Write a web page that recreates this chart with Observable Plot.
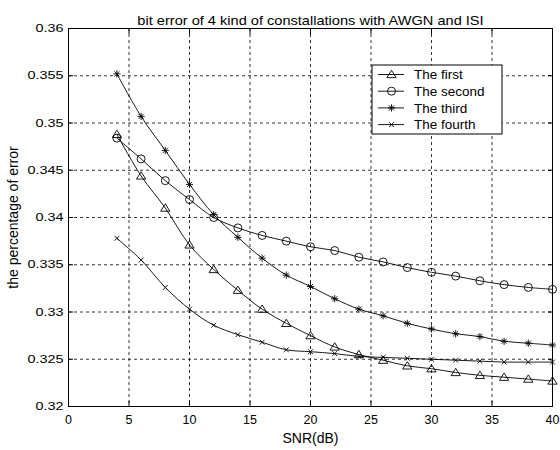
<!DOCTYPE html>
<html><head><meta charset="utf-8">
<script src="https://cdn.jsdelivr.net/npm/d3@7"></script>
<script src="https://cdn.jsdelivr.net/npm/@observablehq/plot@0.6"></script>
<style>body{margin:0;background:#fff;}</style>
</head><body><div id="chart"></div>
<script>
const titleText = "bit error of 4 kind of constallations with AWGN and ISI";
const xLabel = "SNR(dB)";
const yLabel = "the percentage of error";
const snr = [4,6,8,10,12,14,16,18,20,22,24,26,28,30,32,34,36,38,40];
const first  = [0.3488,0.3444,0.3410,0.3371,0.3345,0.3323,0.3303,0.3288,0.3275,0.3263,0.3255,0.3249,0.3243,0.3240,0.3236,0.3233,0.3231,0.3229,0.3227];
const second = [0.3484,0.3462,0.3439,0.3419,0.3400,0.3389,0.3381,0.3375,0.3369,0.3365,0.3358,0.3353,0.3347,0.3342,0.3338,0.3333,0.3329,0.3326,0.3324];
const third  = [0.3552,0.3507,0.3471,0.3435,0.3403,0.3379,0.3357,0.3339,0.3327,0.3314,0.3303,0.3296,0.3288,0.3282,0.3277,0.3274,0.3269,0.3267,0.3265];
const fourth = [0.3378,0.3355,0.3326,0.3303,0.3286,0.3276,0.3268,0.3260,0.3258,0.3256,0.3253,0.3252,0.3251,0.3250,0.3249,0.3248,0.3247,0.3247,0.3247];
const seriesNames = ["The first","The second","The third","The fourth"];
const xTicks = [0,5,10,15,20,25,30,35,40];
const yTicks = [0.32,0.325,0.33,0.335,0.34,0.345,0.35,0.355,0.36];
const yTickLabels = ["0.32","0.325","0.33","0.335","0.34","0.345","0.35","0.355","0.36"];

const values = [first, second, third, fourth];
const rows = seriesNames.flatMap((name, i) => snr.map((x, j) => ({series: name, snr: x, value: values[i][j]})));

// MATLAB-like marker shapes
const matlabStar = {draw(ctx, size) {
  const r = Math.sqrt(size / Math.PI), d = r * 0.7071;
  ctx.moveTo(-r, 0); ctx.lineTo(r, 0); ctx.moveTo(0, -r); ctx.lineTo(0, r);
  ctx.moveTo(-d, -d); ctx.lineTo(d, d); ctx.moveTo(-d, d); ctx.lineTo(d, -d);
}};
const matlabX = {draw(ctx, size) {
  const d = Math.sqrt(size / Math.PI) * 0.7071;
  ctx.moveTo(-d, -d); ctx.lineTo(d, d); ctx.moveTo(-d, d); ctx.lineTo(d, -d);
}};
const matlabTriangle = {draw(ctx, size) {
  const r = Math.sqrt(size / Math.PI);
  ctx.moveTo(0, -r); ctx.lineTo(r * 1.1, r * 0.75); ctx.lineTo(-r * 1.1, r * 0.75); ctx.closePath();
}};
const seriesSymbols = [matlabTriangle, d3.symbolCircle, matlabStar, matlabX];
const symR = [4.2, 4, 3.6, 3.4];

const font = "'Liberation Sans', Arial, Helvetica, sans-serif";
const chart = Plot.plot({
  width: 560, height: 450,
  marginLeft: 68, marginRight: 8, marginTop: 28, marginBottom: 44,
  style: {fontFamily: font, fontSize: "12px", background: "white", color: "black"},
  x: {domain: [0, 40]},
  y: {domain: [0.32, 0.36]},
  marks: [
    Plot.gridX(xTicks, {stroke: "black", strokeOpacity: 1, strokeWidth: 0.8, strokeDasharray: "3,3"}),
    Plot.gridY(yTicks, {stroke: "black", strokeOpacity: 1, strokeWidth: 0.8, strokeDasharray: "3,3"}),
    Plot.axisX(xTicks, {anchor: "bottom", tickSize: -5, tickFormat: () => "", label: null}),
    Plot.axisX(xTicks, {anchor: "top", tickSize: -5, tickFormat: () => "", label: null}),
    Plot.axisY(yTicks, {anchor: "left", tickSize: -5, tickFormat: () => "", label: null}),
    Plot.axisY(yTicks, {anchor: "right", tickSize: -5, tickFormat: () => "", label: null}),
    Plot.frame({stroke: "black", strokeWidth: 1}),
    Plot.axisX(xTicks, {tickSize: 0, tickPadding: 9, fontSize: 12.5, label: xLabel, labelAnchor: "center", labelOffset: 36, labelArrow: false}),
    Plot.axisY(yTicks, {tickSize: 0, tickPadding: 5, fontSize: 11.5, tickFormat: (d, i) => yTickLabels[i], label: yLabel, labelAnchor: "center", labelOffset: 60, labelArrow: false}),
    Plot.line(rows, {x: "snr", y: "value", z: "series", stroke: "black", strokeWidth: 0.9, curve: "catmull-rom"}),
    ...seriesNames.map((name, i) =>
      Plot.dot(rows.filter(d => d.series === name), {x: "snr", y: "value", symbol: seriesSymbols[i], stroke: "black", fill: "none", strokeWidth: 0.9, r: symR[i]})),
    Plot.text([titleText], {frameAnchor: "top", dy: -13, fontSize: 13.5, fill: "black"})
  ]
});
document.getElementById("chart").appendChild(chart);

const svg = d3.select(chart);
const allText = svg.selectAll("text");
allText.filter(function() { return this.textContent === xLabel || this.textContent === yLabel; }).attr("font-size", 14);
// horizontally stretched text, as in the reference raster
function stretch(sel, factor) {
  sel.each(function() {
    const L = this.getComputedTextLength();
    if (L > 0) {
      this.setAttribute("textLength", (L * factor).toFixed(1));
      this.setAttribute("lengthAdjust", "spacingAndGlyphs");
    }
  });
}
stretch(allText.filter(function() { return yTickLabels.includes(this.textContent); }), 1.25);
stretch(allText.filter(function() { return this.textContent === titleText; }), 1.08);

// legend (MATLAB-style box)
const lg = svg.append("g").attr("font-family", font).attr("font-size", 13.5).attr("text-anchor", "start");
const lx = 372, ly = 65, lw = 130, lh = 69;
lg.append("rect").attr("x", lx).attr("y", ly).attr("width", lw).attr("height", lh).attr("fill", "white").attr("stroke", "black").attr("stroke-width", 1);
seriesNames.forEach((name, i) => {
  const y = ly + 9.5 + i * 16.7;
  lg.append("line").attr("x1", lx + 6).attr("x2", lx + 32).attr("y1", y).attr("y2", y).attr("stroke", "black").attr("stroke-width", 0.9);
  lg.append("path").attr("transform", `translate(${lx + 19.5},${y})`)
    .attr("d", d3.symbol(seriesSymbols[i], Math.PI * symR[i] * symR[i])())
    .attr("fill", "none").attr("stroke", "black").attr("stroke-width", 0.9);
  lg.append("text").attr("x", lx + 42).attr("y", y).attr("dy", "0.35em").attr("fill", "black").text(name);
});
</script></body></html>
